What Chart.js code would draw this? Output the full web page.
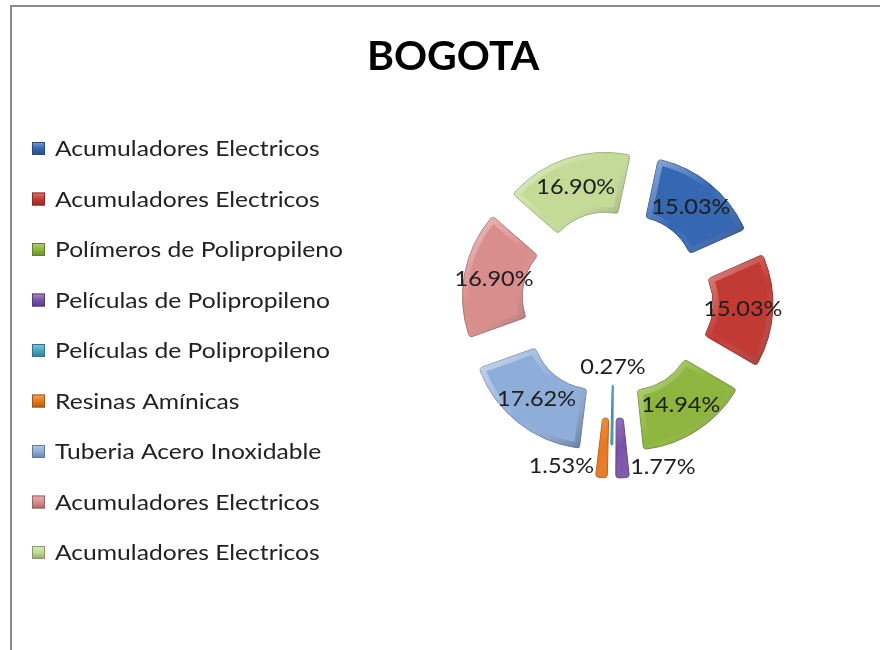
<!DOCTYPE html>
<html>
<head>
<meta charset="utf-8">
<script src="https://cdn.jsdelivr.net/npm/chart.js@4.4.0/dist/chart.umd.min.js"></script>
<style>
  html, body { margin: 0; padding: 0; background: #fff; }
  #wrap { position: relative; width: 880px; height: 650px; }
</style>
</head>
<body>
<div id="wrap"><canvas id="doughnut-chart-bogota" width="880" height="650"></canvas></div>
<script>
const title = 'BOGOTA';
const labels = [
  'Acumuladores Electricos',
  'Acumuladores Electricos',
  'Polímeros de Polipropileno',
  'Películas de Polipropileno',
  'Películas de Polipropileno',
  'Resinas Amínicas',
  'Tuberia Acero Inoxidable',
  'Acumuladores Electricos',
  'Acumuladores Electricos'
];
const shares = [15.03, 15.03, 14.94, 1.77, 0.27, 1.53, 17.62, 16.90, 16.90];
const colors = ['#3567b2', '#c23a34', '#8db53f', '#7a52a8', '#47a7c2', '#e8781f', '#8fadd9', '#d98d8c', '#c4db98'];
// how far each slice is pulled out of the ring
const explode = [30, 37, 31, 54, 21, 54, 32, 30, 29];

const FONT = 'Lato, "Open Sans", sans-serif';
const STRETCH = 1.12; // the text in the picture is set a little wide

function shade(hex, amt) {
  const n = parseInt(hex.slice(1), 16);
  const f = c => Math.max(0, Math.min(255, Math.round(c + (amt > 0 ? (255 - c) * amt : c * amt))));
  return 'rgb(' + f(n >> 16) + ',' + f((n >> 8) & 255) + ',' + f(n & 255) + ')';
}

function wideText(ctx, text, x, y) {
  ctx.save();
  ctx.translate(x, y);
  ctx.scale(STRETCH, 1);
  ctx.fillText(text, 0, 0);
  ctx.restore();
}

function arcPath(ctx, a) {
  ctx.beginPath();
  ctx.arc(a.x, a.y, a.outerRadius, a.startAngle, a.endAngle);
  ctx.arc(a.x, a.y, a.innerRadius, a.endAngle, a.startAngle, true);
  ctx.closePath();
}

// soft bevel: light rim on the upper left, dark rim on the lower right
function bevel(ctx, a) {
  const mid = (a.startAngle + a.endAngle) / 2;
  const rm = (a.innerRadius + a.outerRadius) / 2;
  const mx = a.x + Math.cos(mid) * rm;
  const my = a.y + Math.sin(mid) * rm;
  ctx.save();
  arcPath(ctx, a);
  ctx.clip();
  const g = ctx.createLinearGradient(mx - 55, my - 55, mx + 55, my + 55);
  g.addColorStop(0, 'rgba(255,255,255,0.55)');
  g.addColorStop(0.5, 'rgba(255,255,255,0)');
  g.addColorStop(1, 'rgba(0,0,0,0.4)');
  arcPath(ctx, a);
  ctx.lineWidth = 11;
  ctx.lineJoin = 'round';
  ctx.strokeStyle = g;
  ctx.stroke();
  ctx.restore();
}

const decor = {
  id: 'decor',
  beforeDraw(chart) {
    const ctx = chart.ctx;
    ctx.save();
    ctx.fillStyle = '#fff';
    ctx.fillRect(0, 0, chart.width, chart.height);
    ctx.strokeStyle = '#8a8a8a';
    ctx.lineWidth = 2;
    ctx.beginPath();
    ctx.moveTo(11, chart.height);
    ctx.lineTo(11, 6);
    ctx.lineTo(chart.width, 6);
    ctx.stroke();

    ctx.fillStyle = '#000';
    ctx.font = 'bold 41px ' + FONT;
    ctx.textAlign = 'center';
    ctx.textBaseline = 'middle';
    ctx.fillText(title, 453, 57);

    ctx.font = '22px ' + FONT;
    ctx.textAlign = 'left';
    labels.forEach((label, i) => {
      const y = 148 + i * 50.5;
      const g = ctx.createLinearGradient(0, y - 6, 0, y + 7);
      g.addColorStop(0, shade(colors[i], 0.35));
      g.addColorStop(0.5, colors[i]);
      g.addColorStop(1, shade(colors[i], -0.25));
      ctx.fillStyle = g;
      ctx.fillRect(32, y - 6, 13, 13);
      ctx.strokeStyle = shade(colors[i], -0.3);
      ctx.lineWidth = 1;
      ctx.strokeRect(32.5, y - 5.5, 12, 12);
      ctx.fillStyle = '#222';
      wideText(ctx, label, 55, y + 1);
    });
    ctx.restore();
  },
  beforeDatasetDraw(chart, args) {
    const ctx = chart.ctx;
    args.meta.data.forEach((arc, i) => {
      const mid = (arc.startAngle + arc.endAngle) / 2;
      ctx.save();
      ctx.translate(Math.cos(mid) * explode[i], Math.sin(mid) * explode[i]);
      arc.draw(ctx);
      bevel(ctx, arc);
      ctx.restore();
    });
    return false;
  },
  afterDatasetsDraw(chart) {
    const ctx = chart.ctx;
    const meta = chart.getDatasetMeta(0);
    ctx.save();
    ctx.font = '21px ' + FONT;
    ctx.fillStyle = '#1e1e1e';
    ctx.textAlign = 'center';
    ctx.textBaseline = 'middle';
    meta.data.forEach((arc, i) => {
      const mid = (arc.startAngle + arc.endAngle) / 2;
      const e = explode[i];
      const text = shares[i].toFixed(2) + '%';
      let r;
      let shift = 0;
      let lift = 0;
      if (shares[i] >= 5) {
        r = (arc.innerRadius + arc.outerRadius) / 2 + e;
      } else if (shares[i] < 1) {
        r = arc.innerRadius + e - 18;
      } else {
        r = arc.outerRadius + e - 9;
        shift = (Math.cos(mid) >= 0 ? 1 : -1) * (ctx.measureText(text).width * STRETCH / 2 + 8);
        lift = -2;
      }
      wideText(ctx, text, arc.x + Math.cos(mid) * r + shift, arc.y + Math.sin(mid) * r + lift);
    });
    ctx.restore();
  }
};

const bogota = new Chart(document.getElementById('doughnut-chart-bogota'), {
  type: 'doughnut',
  data: {
    labels: labels,
    datasets: [
      {
        data: shares,
        backgroundColor: colors,
        borderColor: colors.map(c => shade(c, -0.2)),
        borderWidth: 1,
        borderRadius: 3
      }
    ]
  },
  options: {
    responsive: false,
    animation: false,
    rotation: 12,
    radius: 122,
    cutout: '51%',
    layout: {
      padding: { left: 464, top: 152, right: 116, bottom: 198 }
    },
    plugins: {
      legend: { display: false },
      title: { display: false },
      tooltip: { enabled: false }
    }
  },
  plugins: [decor]
});
</script>
</body>
</html>
